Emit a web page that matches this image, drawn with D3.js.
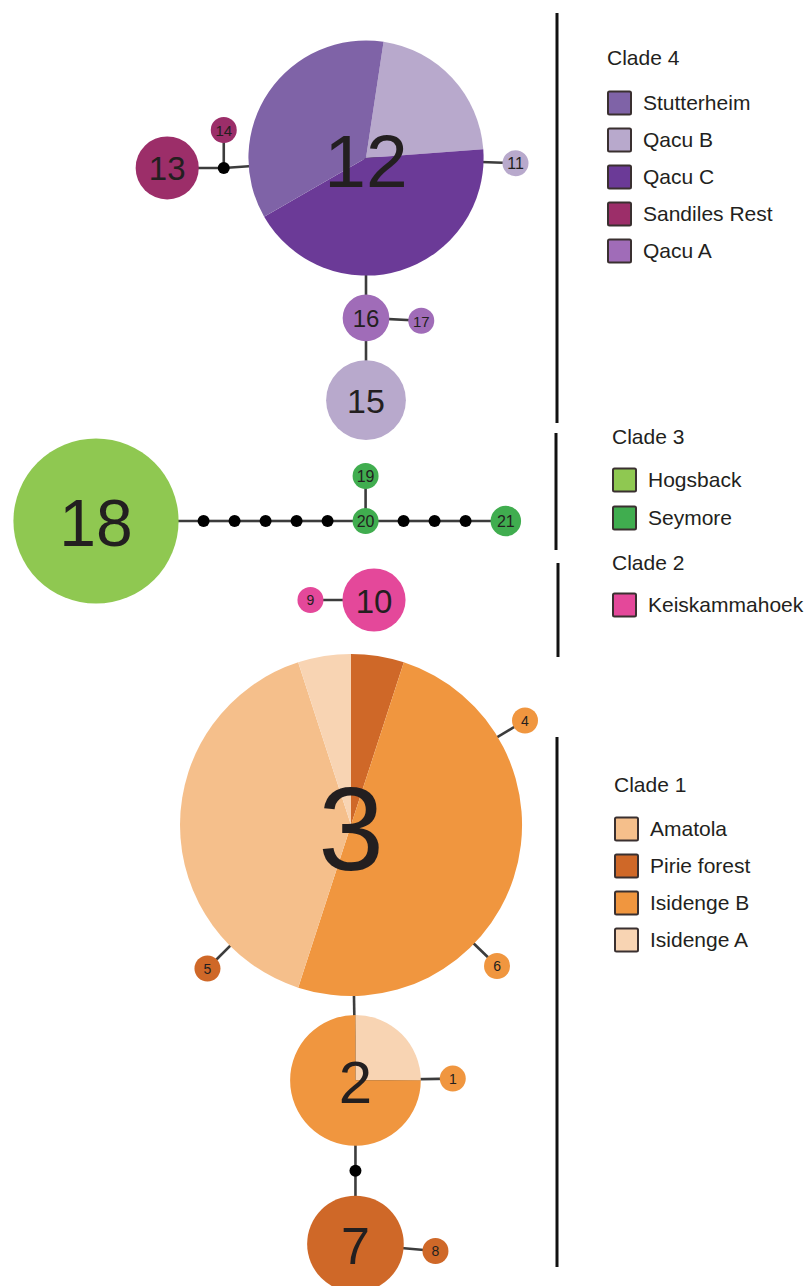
<!DOCTYPE html>
<html>
<head>
<meta charset="UTF-8">
<title>Haplotype network</title>
<style>
body { margin: 0; background: #fff; }
svg text { font-family: "Liberation Sans", Arial, Helvetica, sans-serif; fill: #231f20; }
</style>
</head>
<body>
<script src="https://cdn.jsdelivr.net/npm/d3@7"></script>
<script>
// populations, in legend order
var populations = ["Stutterheim", "Qacu B", "Qacu C", "Sandiles Rest", "Qacu A",
                   "Hogsback", "Seymore",
                   "Keiskammahoek",
                   "Amatola", "Pirie forest", "Isidenge B", "Isidenge A"];
var popColors = ["#7f63a7", "#b8a9cc", "#6b3a97", "#9c2e69", "#a06cb8",
                 "#8fc851", "#40ad4f",
                 "#e4489a",
                 "#f5bf8b", "#cf6828", "#f0963f", "#f8d4b3"];

var clades = ["Clade 4", "Clade 3", "Clade 2", "Clade 1"];
var cladePops = [
  ["Stutterheim", "Qacu B", "Qacu C", "Sandiles Rest", "Qacu A"],
  ["Hogsback", "Seymore"],
  ["Keiskammahoek"],
  ["Amatola", "Pirie forest", "Isidenge B", "Isidenge A"]
];

// sampled haplotypes and their counts per population (clockwise slice order)
var haplotypes = ["1", "2", "3", "4", "5", "6", "7", "8", "9", "10", "11",
                  "12", "13", "14", "15", "16", "17", "18", "19", "20", "21"];
var composition = [
  [["Isidenge B", 1]],
  [["Isidenge A", 2], ["Isidenge B", 6]],
  [["Pirie forest", 1], ["Isidenge B", 10], ["Amatola", 8], ["Isidenge A", 1]],
  [["Isidenge B", 1]],
  [["Pirie forest", 1]],
  [["Isidenge B", 1]],
  [["Pirie forest", 6]],
  [["Pirie forest", 1]],
  [["Keiskammahoek", 1]],
  [["Keiskammahoek", 4]],
  [["Qacu B", 1]],
  [["Qacu B", 3], ["Qacu C", 6], ["Stutterheim", 5]],
  [["Sandiles Rest", 4]],
  [["Sandiles Rest", 1]],
  [["Qacu B", 5]],
  [["Qacu A", 3]],
  [["Qacu A", 1]],
  [["Hogsback", 10]],
  [["Seymore", 1]],
  [["Seymore", 1]],
  [["Seymore", 2]]
];

// unsampled (missing) haplotypes
var missing = ["m1", "m2", "m3", "m4", "m5", "m6", "m7", "m8", "m9", "m10"];

// network edges, one mutational step each
var edges = [
  ["12", "m1"], ["m1", "13"], ["m1", "14"], ["12", "11"], ["12", "16"], ["16", "17"], ["16", "15"],
  ["18", "m2"], ["m2", "m3"], ["m3", "m4"], ["m4", "m5"], ["m5", "m6"], ["m6", "20"],
  ["20", "19"], ["20", "m7"], ["m7", "m8"], ["m8", "m9"], ["m9", "21"],
  ["10", "9"],
  ["3", "4"], ["3", "5"], ["3", "6"], ["3", "2"], ["2", "1"], ["2", "m10"], ["m10", "7"], ["7", "8"]
];

// ---- layout (drawing directions, not data) ----
var edgeAngle = [176, 180, -90, 2, 90, 3, 90,
                 0, 0, 0, 0, 0, 0,
                 -90, 0, 0, 0, 0,
                 180,
                 -31, 135, 44, 89, -1, 90, 90, 5];
var roots = [["12", 366, 158], ["18", 96, 521], ["10", 374, 600], ["3", 351, 825]];
var sliceStart = {"12": 8.6};
var labelSize = {"3": 118, "12": 75, "18": 66, "2": 60, "7": 52, "15": 34, "13": 33,
                 "10": 33, "16": 24, "11": 16, "14": 15, "17": 15, "19": 16, "20": 16, "21": 16};
var gap = 19, minR = 13, missingR = 6;

var width = 808, height = 1286;
var svg = d3.select("body").append("svg")
  .attr("width", width)
  .attr("height", height);

var color = d3.scaleOrdinal().domain(populations).range(popColors);
var radius = d3.scalePow().exponent(1.05).domain([0, 20]).range([0, 171]);

var nodes = {};
haplotypes.forEach(function(h, i) {
  var n = d3.sum(composition[i], function(d) { return d[1]; });
  nodes[h] = {id: h, comp: composition[i], n: n, r: Math.max(minR, radius(n)), missing: false};
});
missing.forEach(function(m) {
  nodes[m] = {id: m, r: missingR, missing: true};
});

// place nodes: each child sits one step away from its parent
roots.forEach(function(d) { nodes[d[0]].x = d[1]; nodes[d[0]].y = d[2]; });
edges.forEach(function(e, i) {
  var a = nodes[e[0]], b = nodes[e[1]];
  var ang = edgeAngle[i] * Math.PI / 180;
  var dist = a.r + b.r + gap;
  b.x = a.x + dist * Math.cos(ang);
  b.y = a.y + dist * Math.sin(ang);
});

// edges
svg.append("g").selectAll("line")
  .data(edges)
  .enter().append("line")
  .attr("x1", function(d) { return nodes[d[0]].x; })
  .attr("y1", function(d) { return nodes[d[0]].y; })
  .attr("x2", function(d) { return nodes[d[1]].x; })
  .attr("y2", function(d) { return nodes[d[1]].y; })
  .attr("stroke", "#3c3c3c")
  .attr("stroke-width", 2.6);

// missing haplotypes
svg.append("g").selectAll("circle")
  .data(missing)
  .enter().append("circle")
  .attr("cx", function(d) { return nodes[d].x; })
  .attr("cy", function(d) { return nodes[d].y; })
  .attr("r", function(d) { return nodes[d].r; })
  .attr("fill", "#000");

// haplotype pies
var pie = d3.pie().sort(null).value(function(d) { return d[1]; });
var hap = svg.append("g").selectAll("g")
  .data(haplotypes)
  .enter().append("g")
  .attr("transform", function(d) { return "translate(" + nodes[d].x + "," + nodes[d].y + ")"; });

hap.each(function(h) {
  var node = nodes[h];
  var start = (sliceStart[h] || 0) * Math.PI / 180;
  var arcs = pie.startAngle(start).endAngle(start + 2 * Math.PI)(node.comp);
  var arc = d3.arc().innerRadius(0).outerRadius(node.r);
  d3.select(this).selectAll("path")
    .data(arcs)
    .enter().append("path")
    .attr("d", arc)
    .attr("fill", function(d) { return color(d.data[0]); });
});

hap.append("text")
  .attr("text-anchor", "middle")
  .attr("dy", "0.38em")
  .style("font-size", function(d) { return (labelSize[d] || 14) + "px"; })
  .text(function(d) { return d; });

// clade separators and legends
var sepX = [557, 556, 558, 557];
var sepY = [[13, 423], [433, 550], [563, 657], [737, 1267]];
var legendX = [607, 612, 612, 614];
var legendTitleY = [58, 437, 563, 785];
var legendRowY = [103, 480, 605, 829];
var legendStep = [37, 38, 37, 37];

svg.append("g").selectAll("line")
  .data(clades)
  .enter().append("line")
  .attr("x1", function(d, i) { return sepX[i]; })
  .attr("x2", function(d, i) { return sepX[i]; })
  .attr("y1", function(d, i) { return sepY[i][0]; })
  .attr("y2", function(d, i) { return sepY[i][1]; })
  .attr("stroke", "#111")
  .attr("stroke-width", 3);

var legend = svg.append("g").selectAll("g")
  .data(clades)
  .enter().append("g");

legend.append("text")
  .attr("x", function(d, i) { return legendX[i]; })
  .attr("y", function(d, i) { return legendTitleY[i]; })
  .attr("dy", "0.35em")
  .style("font-size", "21px")
  .text(function(d) { return d; });

legend.each(function(c, i) {
  var rows = d3.select(this).selectAll("g.row")
    .data(cladePops[i])
    .enter().append("g")
    .attr("class", "row")
    .attr("transform", function(p, j) {
      return "translate(" + legendX[i] + "," + (legendRowY[i] + j * legendStep[i]) + ")";
    });
  rows.append("rect")
    .attr("x", 1)
    .attr("y", -11.5)
    .attr("width", 23)
    .attr("height", 23)
    .attr("rx", 1.5)
    .attr("fill", function(p) { return color(p); })
    .attr("stroke", "#3a3030")
    .attr("stroke-width", 2);
  rows.append("text")
    .attr("x", 36)
    .attr("dy", "0.35em")
    .style("font-size", "21px")
    .text(function(p) { return p; });
});
</script>
</body>
</html>
